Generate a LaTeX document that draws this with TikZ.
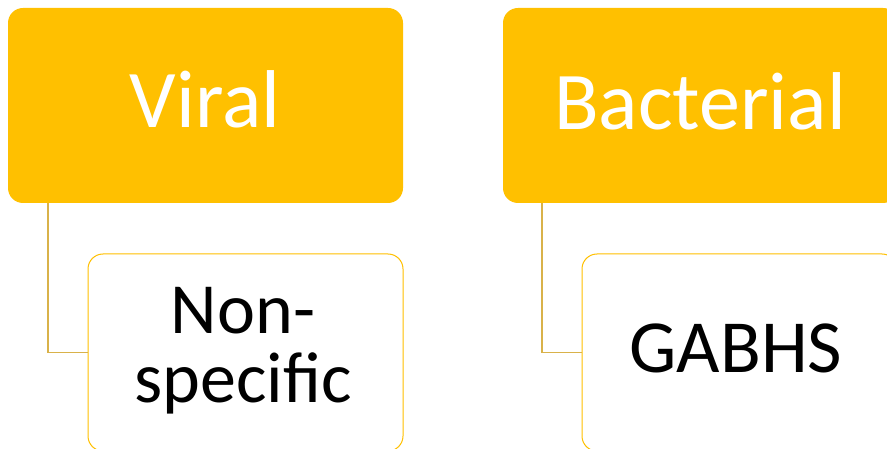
\documentclass[tikz,border=0pt]{standalone}
\usepackage{fontspec}
\setmainfont{Carlito}
\definecolor{gold}{HTML}{FFC000}
\definecolor{linkc}{HTML}{D9B24A}
\begin{document}
\begin{tikzpicture}[x=1pt,y=-1pt,
  headbox/.style={fill=gold,draw=none,rounded corners=15pt,minimum width=395pt,minimum height=195pt,inner sep=0pt},
  subbox/.style={fill=white,draw=gold,line width=1pt,rounded corners=15pt,minimum width=315pt,minimum height=197pt,inner sep=0pt},
  link/.style={draw=linkc,line width=1.6pt},
  headtxt/.style={text=white,font=\fontsize{82}{82}\selectfont,anchor=base,inner sep=0pt},
  subtxt/.style={text=black,align=center,anchor=base,inner sep=0pt}]
\useasboundingbox (0,0) rectangle (887,449);
\clip (0,0) rectangle (887,449);
\node[headbox] (v1) at (205.5,105.5) {};
\node[headbox] (b1) at (700.5,105.5) {};
\node[subbox] (n1) at (245.5,352.5) {};
\node[subbox] (g1) at (739.5,352.5) {};
\draw[link] ([xshift=40pt]v1.south west) |- (n1.west);
\draw[link] ([xshift=39pt]b1.south west) |- (g1.west);
\node[headtxt] (tv) at (205,128) {Viral};
\node[headtxt] (tb) at (700,130) {Bacterial};
\node[subtxt,font=\fontsize{72}{69}\selectfont] (tn) at (243,402) {Non-\\specific};
\node[subtxt,font=\fontsize{75}{75}\selectfont] (tg) at (736,373) {GABHS};
\end{tikzpicture}
\end{document}
